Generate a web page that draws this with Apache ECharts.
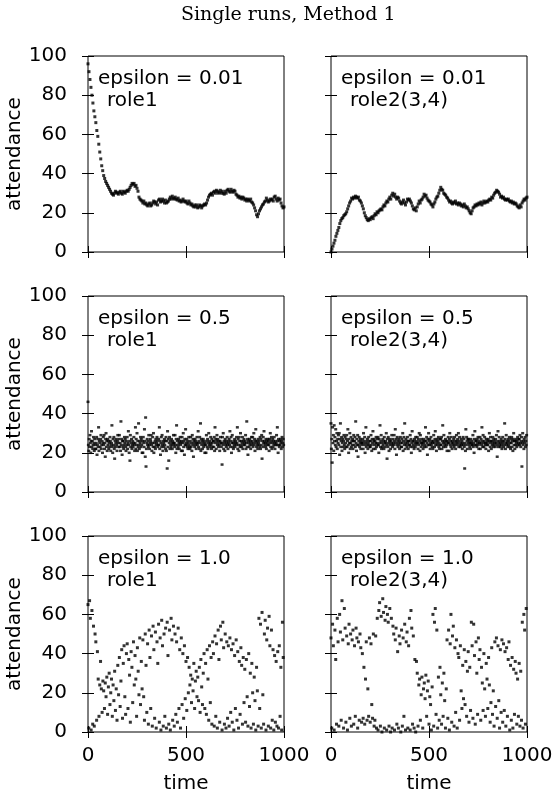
<!DOCTYPE html>
<html>
<head>
<meta charset="utf-8">
<script src="https://cdn.jsdelivr.net/npm/echarts@6/dist/echarts.min.js"></script>
<style>
html, body { margin: 0; padding: 0; background: #fff; }
#chart { width: 556px; height: 796px; }
</style>
</head>
<body>
<div id="chart"></div>
<script>
// time between two stored samples
const stepSmooth = 5
const stepBand = 2
const stepNoisy = 4

const xMax = 1000
const xInterval = 500
const yMax = 100
const yInterval = 20

// epsilon = 0.01, role1 (t = 0..1000 every 5)
const eps001Role1 = [
  96, 92, 88, 84, 80, 76, 72, 69, 66, 62,
  59, 55, 51, 47.5, 44, 41.5, 39, 37.5, 36, 35,
  34, 33, 32, 31, 30, 29.5, 29, 30, 31, 30.5,
  30, 29.5, 30.5, 31, 30, 29.5, 31, 30.5, 30, 31,
  31.5, 31, 32, 33, 34, 35, 34.5, 35, 33.5, 34,
  32.5, 31, 28, 27, 26.5, 26, 25, 26, 24.5, 25,
  24, 23.5, 24.5, 25, 23.5, 24, 25, 26, 25.5, 24.5,
  25.5, 24, 26.5, 27, 25.5, 26, 27, 26, 25, 26.5,
  25, 25.5, 26, 27, 28, 27, 28.5, 27.5, 27, 28,
  27, 26.5, 27.5, 26, 26.5, 25.5, 26, 27, 26, 25.5,
  26, 25, 24.5, 26, 25, 24, 24.5, 23.5, 23, 24,
  23, 24, 22.5, 23, 24, 23.5, 22.5, 23.5, 24, 24.5,
  24, 25, 26.5, 28, 29, 29.5, 30, 29, 30.5, 31,
  30, 31.5, 31, 30, 30.5, 31.5, 30, 31, 30, 29.5,
  31, 30, 31.5, 32, 31, 30.5, 32, 31, 30.5, 31.5,
  31, 29.5, 29, 28, 28.5, 27.5, 28, 27, 28, 27.5,
  26.5, 27, 26, 27, 26.5, 26, 27, 25.5, 25, 24,
  22.5, 21, 19, 18, 19.5, 21, 22, 23, 24, 24.5,
  25.5, 26, 27.5, 26.5, 25.5, 26, 27, 26.5, 27, 26,
  28, 28.5, 27, 26, 27.5, 26.5, 27, 25, 23.5, 22.5,
  23
]

// epsilon = 0.01, role2(3,4) (t = 0..1000 every 5)
const eps001Role2 = [
  0, 1.5, 3, 4.5, 6, 8, 9.5, 11, 12.5, 14.5,
  16, 17, 17.5, 18.5, 19, 19.5, 20.5, 22, 23.5, 25,
  26, 27.5, 27, 28, 27.5, 28.5, 28, 27.5, 28, 26.5,
  26, 25, 23.5, 22, 20, 18.5, 17.5, 16.5, 16, 17,
  16.5, 17.5, 18, 17, 18.5, 19.5, 19, 20.5, 20, 21,
  21.5, 22, 21.5, 23, 24, 23.5, 25, 26, 25.5, 27,
  28, 27, 29, 30, 28.5, 29.5, 28, 27, 28, 27.5,
  26, 25, 24.5, 25.5, 26.5, 25, 24, 25.5, 27, 26.5,
  27, 26, 25, 23.5, 22, 21.5, 22.5, 21, 23, 24.5,
  26, 25, 26.5, 27, 28, 29.5, 28.5, 29, 27.5, 26.5,
  26, 25.5, 24.5, 24, 23, 24.5, 25.5, 27, 28, 28.5,
  30, 31.5, 33, 32, 31.5, 30, 29.5, 29, 28, 27.5,
  26.5, 25.5, 26, 25, 24.5, 25.5, 25, 26, 24.5, 25,
  24, 25, 24.5, 23.5, 24, 23, 24.5, 23.5, 22.5, 23,
  22, 21, 20, 19.5, 21, 22.5, 23, 24, 23.5, 24.5,
  24, 25, 24.5, 25.5, 24, 25, 26, 25, 25.5, 26,
  25.5, 26.5, 27, 26.5, 28, 27.5, 29, 30, 30.5, 31.5,
  31, 30.5, 29.5, 28, 28.5, 27.5, 28, 27, 26.5, 27,
  26.5, 27, 26, 25.5, 26, 25, 25.5, 24.5, 25, 24.5,
  23.5, 23, 22.5, 24, 23, 25, 26, 27, 26.5, 27.5,
  28
]

// epsilon = 0.5, role1 (t = 0..998 every 2)
const eps05Role1 = [
  46, 24, 21, 27, 23, 29, 25, 20, 26, 31,
  23, 26, 22, 24, 28, 25, 21, 27, 24, 22,
  22, 25, 28, 19, 24, 27, 23, 33, 21, 26,
  25, 23, 27, 29, 22, 24, 26, 20, 25, 28,
  24, 29, 22, 25, 18, 27, 30, 23, 26, 21,
  27, 24, 26, 22, 25, 23, 28, 26, 21, 24,
  25, 34, 23, 20, 27, 24, 28, 22, 17, 26,
  23, 25, 27, 24, 21, 26, 29, 25, 23, 27,
  29, 23, 25, 21, 36, 24, 27, 19, 26, 23,
  26, 22, 24, 28, 25, 27, 23, 21, 26, 24,
  28, 22, 25, 31, 24, 20, 26, 16, 29, 23,
  25, 27, 22, 24, 26, 23, 25, 28, 24, 21,
  25, 33, 22, 27, 24, 30, 21, 26, 23, 35,
  24, 22, 26, 25, 28, 23, 27, 24, 20, 26,
  20, 28, 25, 23, 32, 26, 18, 38, 13, 22,
  25, 27, 24, 26, 23, 29, 24, 22, 25, 27,
  26, 29, 24, 21, 25, 28, 23, 30, 20, 25,
  23, 26, 22, 27, 24, 25, 28, 26, 23, 24,
  27, 24, 33, 22, 26, 19, 25, 28, 23, 29,
  24, 21, 26, 25, 23, 27, 24, 26, 22, 28,
  21, 26, 12, 31, 23, 27, 16, 25, 28, 22,
  26, 24, 23, 27, 25, 22, 26, 24, 29, 25,
  25, 23, 29, 24, 20, 27, 34, 22, 26, 24,
  23, 27, 25, 22, 26, 28, 24, 25, 21, 26,
  28, 21, 25, 30, 23, 26, 19, 27, 24, 32,
  25, 24, 27, 23, 26, 22, 25, 28, 24, 23,
  22, 26, 28, 23, 25, 21, 29, 24, 27, 18,
  26, 25, 23, 27, 24, 26, 22, 25, 28, 24,
  25, 31, 23, 26, 22, 28, 25, 35, 21, 27,
  24, 26, 22, 25, 27, 23, 26, 24, 20, 25,
  24, 20, 29, 26, 23, 27, 22, 25, 30, 24,
  26, 23, 25, 28, 24, 22, 27, 25, 23, 26,
  26, 23, 28, 21, 33, 25, 27, 22, 26, 29,
  24, 27, 25, 23, 26, 24, 21, 26, 28, 25,
  23, 25, 14, 28, 24, 30, 22, 26, 25, 21,
  27, 24, 26, 23, 25, 28, 24, 22, 26, 25,
  27, 24, 31, 23, 26, 28, 20, 25, 29, 23,
  25, 22, 26, 24, 27, 23, 25, 26, 24, 28,
  25, 33, 22, 27, 24, 21, 28, 26, 23, 30,
  24, 26, 23, 25, 28, 22, 26, 24, 27, 25,
  24, 26, 29, 22, 25, 36, 23, 27, 19, 26,
  25, 23, 27, 24, 26, 22, 25, 28, 24, 26,
  28, 23, 25, 30, 24, 27, 21, 26, 32, 25,
  23, 26, 24, 22, 27, 25, 24, 26, 23, 28,
  22, 27, 24, 29, 17, 26, 23, 28, 25, 31,
  26, 24, 25, 23, 27, 22, 26, 25, 24, 27,
  26, 24, 21, 27, 25, 30, 23, 26, 28, 22,
  25, 27, 23, 26, 24, 28, 25, 22, 26, 24,
  25, 29, 24, 33, 26, 20, 27, 24, 23, 26,
  24, 27, 25, 22, 26, 28, 23, 25, 27, 24
]

// epsilon = 0.5, role2(3,4) (t = 0..998 every 2)
const eps05Role2 = [
  35, 22, 27, 15, 33, 25, 29, 21, 34, 26,
  28, 24, 32, 23, 26, 30, 22, 27, 25, 29,
  24, 30, 19, 27, 35, 23, 26, 28, 21, 25,
  27, 23, 26, 29, 24, 22, 28, 25, 23, 27,
  29, 23, 26, 32, 24, 20, 27, 25, 30, 22,
  25, 28, 23, 26, 24, 27, 22, 26, 29, 24,
  26, 28, 23, 36, 25, 21, 27, 24, 29, 18,
  24, 26, 28, 23, 25, 27, 22, 26, 24, 25,
  25, 27, 22, 30, 26, 24, 28, 20, 25, 33,
  23, 26, 24, 27, 22, 25, 28, 24, 26, 23,
  23, 26, 29, 24, 21, 27, 25, 31, 22, 26,
  27, 24, 26, 22, 25, 28, 23, 25, 27, 24,
  28, 24, 20, 27, 25, 34, 23, 26, 29, 22,
  25, 23, 27, 24, 26, 22, 28, 25, 23, 26,
  25, 30, 24, 17, 27, 23, 28, 25, 21, 26,
  24, 27, 22, 26, 25, 29, 24, 23, 27, 25,
  24, 29, 26, 22, 32, 25, 27, 19, 24, 28,
  26, 23, 25, 27, 24, 22, 26, 28, 25, 23,
  23, 27, 25, 30, 21, 26, 28, 24, 35, 22,
  25, 27, 24, 26, 23, 28, 25, 22, 26, 24,
  26, 24, 29, 23, 27, 20, 25, 31, 26, 23,
  24, 26, 22, 27, 25, 23, 28, 24, 26, 25,
  28, 25, 22, 27, 24, 30, 26, 21, 29, 25,
  23, 27, 25, 24, 26, 22, 25, 27, 23, 26,
  24, 33, 26, 23, 28, 25, 19, 27, 24, 30,
  26, 24, 27, 22, 25, 28, 24, 26, 23, 25,
  22, 26, 29, 25, 23, 27, 31, 24, 26, 21,
  25, 27, 24, 26, 28, 23, 25, 22, 27, 24,
  27, 24, 28, 22, 26, 34, 25, 23, 29, 26,
  24, 25, 27, 23, 26, 24, 21, 26, 25, 28,
  25, 21, 27, 30, 24, 26, 23, 28, 25, 22,
  26, 24, 25, 27, 23, 28, 24, 26, 22, 25,
  29, 26, 24, 27, 25, 30, 23, 26, 28, 24,
  23, 25, 27, 24, 26, 22, 25, 28, 24, 27,
  23, 12, 25, 21, 32, 24, 28, 26, 22, 27,
  25, 27, 24, 26, 23, 25, 22, 27, 25, 24,
  26, 24, 29, 23, 25, 20, 27, 31, 24, 26,
  24, 26, 23, 27, 25, 28, 24, 22, 26, 25,
  28, 22, 25, 27, 24, 33, 26, 23, 29, 25,
  23, 26, 28, 24, 25, 22, 27, 25, 24, 26,
  24, 27, 21, 26, 30, 25, 23, 28, 26, 22,
  26, 24, 25, 28, 23, 27, 24, 26, 25, 23,
  27, 25, 29, 24, 18, 26, 31, 23, 25, 28,
  24, 26, 23, 25, 27, 24, 22, 26, 28, 25,
  23, 26, 24, 35, 27, 22, 25, 29, 24, 26,
  25, 23, 27, 24, 26, 28, 23, 25, 22, 27,
  25, 28, 23, 26, 21, 27, 30, 24, 26, 22,
  26, 24, 27, 25, 23, 26, 28, 24, 25, 27,
  27, 24, 29, 25, 23, 26, 28, 13, 25, 30,
  24, 26, 22, 27, 25, 28, 23, 26, 24, 29
]

// epsilon = 1.0, role1 (t = 0..996 every 4)
const eps10Role1 = [
  65, 2, 67, 58, 1, 62, 4, 54, 3, 50,
  46, 6, 41, 27, 8, 24, 36, 22, 10, 26,
  21, 12, 25, 18, 28, 9, 23, 30, 14, 20,
  27, 8, 24, 16, 31, 11, 22, 6, 34, 19,
  38, 13, 26, 42, 7, 35, 44, 18, 9, 40,
  45, 12, 37, 29, 5, 41, 33, 15, 46, 24,
  39, 27, 8, 43, 31, 19, 48, 14, 36, 22,
  47, 18, 6, 50, 34, 10, 45, 4, 52, 38,
  12, 49, 3, 54, 42, 7, 51, 2, 46, 35,
  55, 5, 48, 1, 57, 44, 3, 50, 8, 53,
  2, 56, 39, 4, 52, 1, 58, 47, 6, 54,
  3, 50, 9, 46, 5, 53, 12, 42, 2, 48,
  14, 40, 7, 44, 17, 36, 11, 38, 20, 33,
  24, 29, 15, 27, 21, 35, 12, 26, 31, 18,
  28, 16, 33, 10, 37, 23, 14, 30, 40, 12,
  35, 9, 42, 27, 6, 44, 15, 38, 4, 46,
  40, 3, 49, 8, 45, 2, 52, 37, 5, 54,
  47, 1, 56, 43, 4, 50, 2, 46, 7, 44,
  3, 48, 10, 42, 5, 45, 1, 39, 12, 47,
  6, 41, 2, 36, 9, 43, 34, 4, 38, 15,
  32, 5, 37, 18, 3, 40, 13, 30, 2, 35,
  20, 4, 28, 16, 1, 33, 21, 3, 58, 12,
  55, 2, 61, 19, 4, 50, 57, 1, 47, 53,
  3, 59, 44, 2, 52, 6, 42, 1, 39, 5,
  36, 3, 41, 2, 44, 8, 33, 1, 56, 38
]

// epsilon = 1.0, role2(3,4) (t = 0..996 every 4)
const eps10Role2 = [
  48, 2, 55, 44, 1, 52, 37, 4, 58, 46,
  3, 60, 51, 6, 67, 47, 2, 63, 53, 5,
  49, 1, 45, 55, 7, 50, 3, 47, 52, 4,
  44, 8, 53, 48, 2, 46, 6, 50, 43, 5,
  40, 7, 33, 4, 27, 46, 6, 22, 8, 48,
  5, 45, 14, 7, 50, 3, 6, 49, 2, 58,
  1, 62, 66, 3, 59, 0, 68, 61, 2, 57,
  64, 1, 60, 56, 3, 63, 0, 58, 2, 54,
  50, 1, 47, 53, 4, 41, 2, 49, 45, 0,
  52, 3, 48, 8, 55, 1, 46, 51, 2, 44,
  58, 1, 62, 53, 4, 49, 2, 37, 0, 36,
  30, 3, 24, 27, 6, 19, 28, 2, 22, 25,
  17, 29, 8, 21, 26, 4, 18, 14, 1, 23,
  60, 3, 56, 63, 9, 52, 2, 28, 6, 33,
  19, 4, 25, 8, 30, 16, 2, 22, 47, 7,
  52, 1, 45, 60, 5, 49, 54, 3, 43, 10,
  47, 2, 40, 38, 6, 44, 21, 12, 34, 17,
  42, 14, 36, 8, 31, 41, 5, 33, 11, 56,
  44, 7, 55, 39, 4, 46, 30, 9, 48, 37,
  42, 6, 33, 25, 11, 40, 22, 8, 35, 27,
  12, 38, 24, 5, 15, 43, 9, 21, 3, 46,
  13, 48, 7, 44, 16, 2, 42, 10, 47, 5,
  45, 11, 41, 3, 43, 8, 37, 46, 1, 34,
  6, 38, 2, 32, 9, 36, 30, 4, 27, 8,
  35, 3, 31, 6, 56, 2, 60, 52, 4, 63
]

const panels = [
  { eps: 'epsilon = 0.01', role: 'role1', values: eps001Role1, step: stepSmooth, size: [3, 3] },
  { eps: 'epsilon = 0.01', role: 'role2(3,4)', values: eps001Role2, step: stepSmooth, size: [3, 3] },
  { eps: 'epsilon = 0.5', role: 'role1', values: eps05Role1, step: stepBand, size: [3, 2.5] },
  { eps: 'epsilon = 0.5', role: 'role2(3,4)', values: eps05Role2, step: stepBand, size: [3, 2.5] },
  { eps: 'epsilon = 1.0', role: 'role1', values: eps10Role1, step: stepNoisy, size: [3, 3] },
  { eps: 'epsilon = 1.0', role: 'role2(3,4)', values: eps10Role2, step: stepNoisy, size: [3, 3] }
]

const colLeft = [88, 331]
const rowTop = [56, 296, 536]
const panelW = 196
const panelH = 196
const sans = '"DejaVu Sans", sans-serif'

const chart = echarts.init(document.getElementById('chart'))

const grids = [], xBottom = [], xTop = [], yLeft = [], yRight = [], series = []
const texts = [{
  type: 'text', left: 181, top: 6,
  style: { text: 'Single runs, Method 1', font: '19px "DejaVu Serif", serif', fill: '#000' }
}]

const tick = { inside: true, length: 6, lineStyle: { color: '#000', width: 1 } }

panels.forEach((p, i) => {
  const row = Math.floor(i / 2)
  const col = i % 2
  const left = colLeft[col]
  const top = rowTop[row]
  grids.push({ left, top, width: panelW, height: panelH, show: true, borderColor: '#000', borderWidth: 1 })

  const xBase = { gridIndex: i, type: 'value', min: 0, max: xMax, interval: xInterval,
    axisLine: { show: false }, axisTick: tick, splitLine: { show: false } }
  xBottom.push(Object.assign({}, xBase, {
    position: 'bottom',
    axisLabel: { show: row === 2, fontSize: 20, fontFamily: sans, color: '#000', margin: 14,
      showMinLabel: true, showMaxLabel: true, formatter: v => String(v) },
    name: row === 2 ? 'time' : '', nameLocation: 'middle', nameGap: 42,
    nameTextStyle: { fontSize: 20, fontFamily: sans, color: '#000' }
  }))
  xTop.push(Object.assign({}, xBase, { position: 'top', axisLabel: { show: false } }))

  const yBase = { gridIndex: i, type: 'value', min: 0, max: yMax, interval: yInterval,
    axisLine: { show: false }, axisTick: tick, splitLine: { show: false } }
  yLeft.push(Object.assign({}, yBase, {
    position: 'left',
    axisLabel: { show: col === 0, fontSize: 20, fontFamily: sans, color: '#000', margin: 21 },
    name: col === 0 ? 'attendance' : '', nameLocation: 'middle', nameGap: 56,
    nameTextStyle: { fontSize: 20, fontFamily: sans, color: '#000' }
  }))
  yRight.push(Object.assign({}, yBase, { position: 'right', axisLabel: { show: false } }))

  series.push({
    type: 'scatter',
    xAxisIndex: i,
    yAxisIndex: i,
    symbol: 'rect',
    symbolSize: p.size,
    itemStyle: { color: '#000' },
    silent: true,
    data: p.values.map((v, k) => [k * p.step, v])
  })

  texts.push({ type: 'text', left: left + 10, top: top + 13,
    style: { text: p.eps, font: '20px ' + sans, fill: '#000' } })
  texts.push({ type: 'text', left: left + 19, top: top + 35,
    style: { text: p.role, font: '20px ' + sans, fill: '#000' } })
})

chart.setOption({
  animation: false,
  backgroundColor: '#fff',
  grid: grids,
  xAxis: xBottom.concat(xTop),
  yAxis: yLeft.concat(yRight),
  series,
  graphic: texts
})
</script>
</body>
</html>
